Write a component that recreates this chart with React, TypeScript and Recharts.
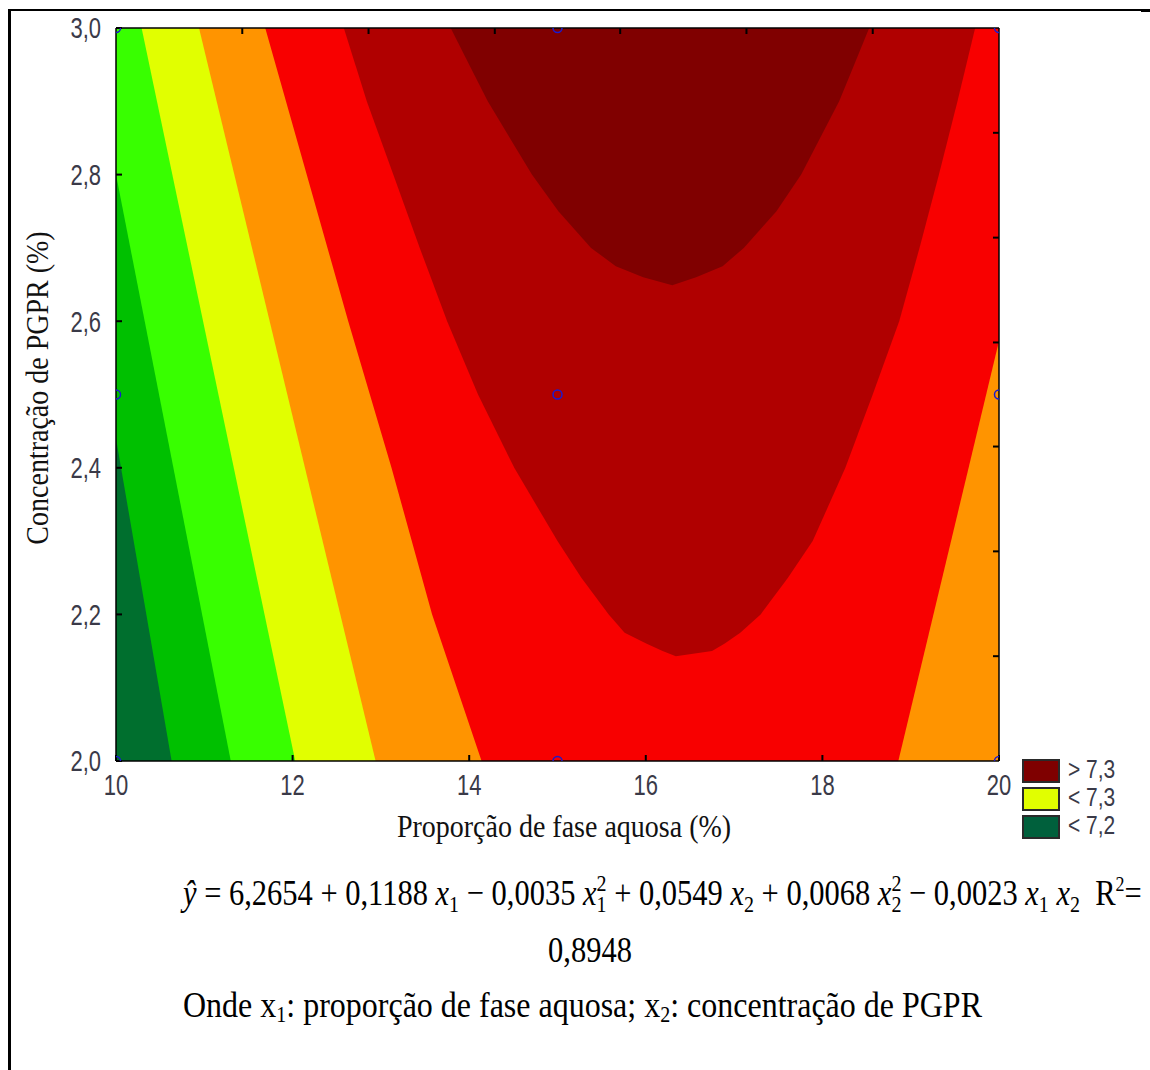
import React from 'react';
import { ComposedChart, Area, Scatter, XAxis, YAxis } from 'recharts';

// Axis ticks
const X_TICKS = [10, 12, 14, 16, 18, 20];
const Y_TICKS = [2.0, 2.2, 2.4, 2.6, 2.8, 3.0];
const TOP_TICKS = [11.43, 12.86, 14.29, 15.71, 17.14, 18.57];
const RIGHT_TICKS = [2.143, 2.286, 2.429, 2.571, 2.714, 2.857];

// Contour band boundaries
// y = Concentração de PGPR (%), x = Proporção de fase aquosa (%)
const redBase = [
  { y: 3.0, x: 20 },
  { y: 2.0, x: 20 },
];
const orangeLeft = [
  { y: 3.0, x: 11.69 },
  { y: 2.6, x: 12.63 },
  { y: 2.4, x: 13.12 },
  { y: 2.2, x: 13.58 },
  { y: 2.0, x: 14.14 },
];
const yellowBand = [
  { y: 3.0, x: 10.94 },
  { y: 2.0, x: 12.94 },
];
const brightGreen = [
  { y: 3.0, x: 10.29 },
  { y: 2.0, x: 12.03 },
];
const greenBand = [
  { y: 2.8, x: 10.0 },
  { y: 2.0, x: 11.3 },
];
const darkGreen = [
  { y: 2.44, x: 10.0 },
  { y: 2.0, x: 10.63 },
];
const orangeRight = [
  { y: 2.573, x: [20, 20] },
  { y: 2.0, x: [18.86, 20] },
];
const darkRed = [
  { y: 3.0, x: [12.58, 19.73] },
  { y: 2.9, x: [12.84, 19.53] },
  { y: 2.8, x: [13.14, 19.32] },
  { y: 2.7, x: [13.44, 19.1] },
  { y: 2.6, x: [13.75, 18.87] },
  { y: 2.5, x: [14.1, 18.57] },
  { y: 2.4, x: [14.51, 18.26] },
  { y: 2.3, x: [15.0, 17.89] },
  { y: 2.25, x: [15.27, 17.61] },
  { y: 2.2, x: [15.58, 17.3] },
  { y: 2.175, x: [15.76, 17.07] },
  { y: 2.16, x: [16.01, 16.89] },
  { y: 2.15, x: [16.19, 16.75] },
  { y: 2.143, x: [16.34, 16.34] },
];
const darkestRed = [
  { y: 3.0, x: [13.79, 18.53] },
  { y: 2.95, x: [14.0, 18.36] },
  { y: 2.9, x: [14.21, 18.19] },
  { y: 2.8, x: [14.71, 17.76] },
  { y: 2.75, x: [15.01, 17.48] },
  { y: 2.7, x: [15.38, 17.11] },
  { y: 2.675, x: [15.66, 16.87] },
  { y: 2.66, x: [15.97, 16.57] },
  { y: 2.649, x: [16.3, 16.3] },
];
const designPoints = [
  { x: 10, y: 2.0 }, { x: 10, y: 2.5 }, { x: 10, y: 3.0 },
  { x: 15, y: 2.0 }, { x: 15, y: 2.5 }, { x: 15, y: 3.0 },
  { x: 20, y: 2.0 }, { x: 20, y: 2.5 }, { x: 20, y: 3.0 },
];

const LEGEND = [
  { label: '> 7,3', color: '#7F0000' },
  { label: '< 7,3', color: '#E1FF00' },
  { label: '< 7,2', color: '#00603C' },
];

const SANS = '"Liberation Sans", Arial, sans-serif';
const SERIF = '"Liberation Serif", "Times New Roman", serif';
const TICK_COLOR = '#3a3a48';
const SY = 1.3;

const BottomTick = (props: any) => {
  const { x, y, payload } = props;
  return (
    <text transform={`translate(${x},${y}) scale(1,${SY})`} y={16} textAnchor="middle"
      fontFamily={SANS} fontSize={22} fill={TICK_COLOR}>
      {String(payload.value)}
    </text>
  );
};
const LeftTick = (props: any) => {
  const { x, y, payload } = props;
  return (
    <text transform={`translate(${x},${y}) scale(1,${SY})`} y={8} textAnchor="end"
      fontFamily={SANS} fontSize={22} fill={TICK_COLOR}>
      {Number(payload.value).toFixed(1).replace('.', ',')}
    </text>
  );
};
const NoTick = () => <g />;

const Circle = (props: any) => {
  const { cx, cy } = props;
  return <circle cx={cx} cy={cy} r={4.5} fill="none" stroke="#1a1ad0" strokeWidth={1.5} />;
};

const axisLine = { stroke: '#000', strokeWidth: 1.5 };
const tickLine = { stroke: '#000', strokeWidth: 2 };

const bands: { data: any[]; color: string; key: string }[] = [
  { data: redBase, color: '#F80000', key: 'redBase' },
  { data: orangeLeft, color: '#FF9400', key: 'orangeLeft' },
  { data: yellowBand, color: '#E1FF00', key: 'yellow' },
  { data: brightGreen, color: '#38FF00', key: 'brightGreen' },
  { data: greenBand, color: '#00C000', key: 'green' },
  { data: darkGreen, color: '#006F2E', key: 'darkGreen' },
  { data: orangeRight, color: '#FF9400', key: 'orangeRight' },
  { data: darkRed, color: '#B00000', key: 'darkRed' },
  { data: darkestRed, color: '#800000', key: 'darkest' },
];

export default function App() {
  return (
    <div style={{ position: 'absolute', left: 0, top: 0, width: 1150, height: 1070, background: '#fff', overflow: 'hidden' }}>
      {/* page borders */}
      <div style={{ position: 'absolute', left: 8, top: 9, width: 1134, height: 1.5, background: '#000' }} />
      <div style={{ position: 'absolute', left: 1141, top: 9, width: 9, height: 3, background: '#000' }} />
      <div style={{ position: 'absolute', left: 8, top: 9, width: 2.5, height: 1061, background: '#000' }} />

      <div style={{ position: 'absolute', left: 0, top: 0 }}>
        <ComposedChart width={1150} height={870} layout="vertical"
          margin={{ top: 23, right: 146, bottom: 69, left: 56 }}>
          <XAxis xAxisId="b" type="number" dataKey="x" orientation="bottom" domain={[10, 20]}
            allowDataOverflow ticks={X_TICKS} interval={0} height={40}
            tickSize={-6} tickMargin={19} axisLine={axisLine} tickLine={tickLine} tick={BottomTick} />
          <XAxis xAxisId="t" type="number" dataKey="x" orientation="top" domain={[10, 20]}
            allowDataOverflow ticks={TOP_TICKS} interval={0} height={5}
            tickSize={-6} axisLine={axisLine} tickLine={tickLine} tick={NoTick} />
          <YAxis yAxisId="l" type="number" dataKey="y" orientation="left" domain={[2, 3]} reversed
            allowDataOverflow ticks={Y_TICKS} interval={0} width={60}
            tickSize={-6} tickMargin={21} axisLine={axisLine} tickLine={tickLine} tick={LeftTick} />
          <YAxis yAxisId="r" type="number" dataKey="y" orientation="right" domain={[2, 3]} reversed
            allowDataOverflow ticks={RIGHT_TICKS} interval={0} width={5}
            tickSize={-6} axisLine={axisLine} tickLine={tickLine} tick={NoTick} />
          {bands.map((b) => (
            <Area key={b.key} data={b.data} dataKey="x" xAxisId="b" yAxisId="l" type="linear"
              stroke="none" fill={b.color} fillOpacity={1} dot={false} activeDot={false}
              isAnimationActive={false} />
          ))}
          <Scatter data={designPoints} xAxisId="b" yAxisId="l" shape={Circle} isAnimationActive={false} />
        </ComposedChart>
      </div>

      {/* legend boxes */}
      {LEGEND.map((l, i) => (
        <div key={l.label} style={{
          position: 'absolute', left: 1022, top: 759 + i * 28, width: 34, height: 20,
          background: l.color, border: '2px solid #2a2a2a',
        }} />
      ))}

      <svg width={1150} height={1070} style={{ position: 'absolute', left: 0, top: 0, pointerEvents: 'none' }}>
        {LEGEND.map((l, i) => (
          <text key={l.label} transform={`translate(1068,${778 + i * 28}) scale(1,1.25)`}
            fontFamily={SANS} fontSize={21} fill={TICK_COLOR}>{l.label}</text>
        ))}
        <text transform={`translate(564,837) scale(1,1.12)`} textAnchor="middle"
          fontFamily={SERIF} fontSize={28} fill="#111">Proporção de fase aquosa (%)</text>
        <text transform={`translate(48,388) rotate(-90) scale(1,1.12)`} textAnchor="middle"
          fontFamily={SERIF} fontSize={28} fill="#111">Concentração de PGPR (%)</text>

        <text transform="translate(183,905) scale(1,1.2)" fontFamily={SERIF} fontSize={30.5}
          fill="#000" xmlSpace="preserve" style={{ whiteSpace: 'pre' }}>
          <tspan fontStyle="italic">ŷ</tspan>
          <tspan>{' = 6,2654 + 0,1188 '}</tspan>
          <tspan fontStyle="italic">x</tspan><tspan fontSize={20} dy={6}>1</tspan>
          <tspan dy={-6}>{' − 0,0035 '}</tspan>
          <tspan fontStyle="italic">x</tspan><tspan fontSize={20} dy={6}>1</tspan>
          <tspan fontSize={20} dx={-10} dy={-18}>2</tspan>
          <tspan dy={12}>{' + 0,0549 '}</tspan>
          <tspan fontStyle="italic">x</tspan><tspan fontSize={20} dy={6}>2</tspan>
          <tspan dy={-6}>{' + 0,0068 '}</tspan>
          <tspan fontStyle="italic">x</tspan><tspan fontSize={20} dy={6}>2</tspan>
          <tspan fontSize={20} dx={-10} dy={-18}>2</tspan>
          <tspan dy={12}>{' − 0,0023 '}</tspan>
          <tspan fontStyle="italic">x</tspan><tspan fontSize={20} dy={6}>1</tspan>
          <tspan dy={-6}>{' '}</tspan>
          <tspan fontStyle="italic">x</tspan><tspan fontSize={20} dy={6}>2</tspan>
          <tspan dy={-6}>{'  R'}</tspan>
          <tspan fontSize={18} dy={-12}>2</tspan>
          <tspan dy={12}>=</tspan>
        </text>
        <text transform="translate(590,962) scale(1,1.2)" textAnchor="middle" fontFamily={SERIF}
          fontSize={30.5} fill="#000">0,8948</text>
        <text transform="translate(183,1017) scale(1,1.15)" fontFamily={SERIF} fontSize={32}
          fill="#000" xmlSpace="preserve" style={{ whiteSpace: 'pre' }}>
          <tspan>Onde x</tspan>
          <tspan fontSize={20} dy={4}>1</tspan>
          <tspan dy={-4}>: proporção de fase aquosa; x</tspan>
          <tspan fontSize={20} dy={4}>2</tspan>
          <tspan dy={-4}>: concentração de PGPR</tspan>
        </text>
      </svg>
    </div>
  );
}
